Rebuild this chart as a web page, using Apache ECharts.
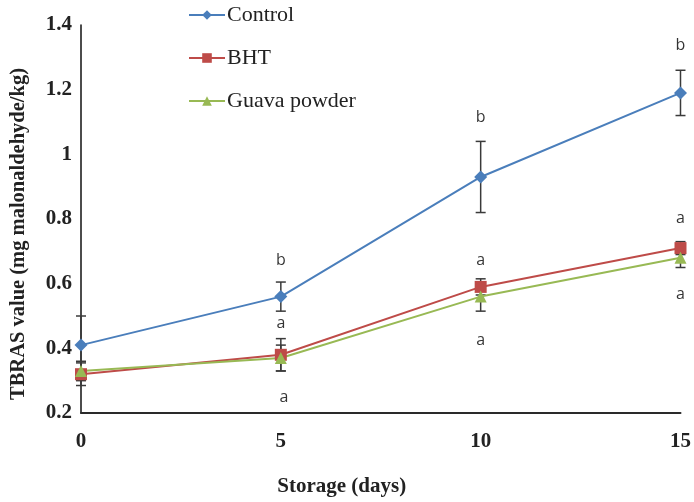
<!DOCTYPE html>
<html>
<head>
<meta charset="utf-8">
<script src="https://cdn.jsdelivr.net/npm/echarts@6/dist/echarts.min.js"></script>
<style>html,body{margin:0;padding:0;background:#fff;}#c{width:694px;height:502px;}</style>
</head>
<body>
<div id="c"></div>
<script>
const days = [0, 5, 10, 15];
const control = [0.41, 0.56, 0.93, 1.19];
const controlErr = [0.09, 0.045, 0.11, 0.07];
const bht = [0.32, 0.38, 0.59, 0.71];
const bhtErr = [0.035, 0.05, 0.025, 0.02];
const guava = [0.33, 0.37, 0.56, 0.68];
const guavaErr = [0.03, 0.04, 0.045, 0.03];
const yTicks = [0.2, 0.4, 0.6, 0.8, 1.0, 1.2, 1.4];
const xTicks = [0, 5, 10, 15];
// significance letters: [day, value position, letter]
const letters = [
  [5, 0.671, 'b'], [5, 0.477, 'a'], [5.08, 0.249, 'a'],
  [10, 1.114, 'b'], [10, 0.671, 'a'], [10, 0.425, 'a'],
  [15, 1.338, 'b'], [15, 0.803, 'a'], [15, 0.566, 'a']
];

const colors = {control: '#4A7EBB', bht: '#BE4B48', guava: '#98B954'};

function errData(vals, errs) {
  return days.map((d, i) => [d, vals[i] - errs[i], vals[i] + errs[i]]);
}
function errSeries(vals, errs) {
  return {
    type: 'custom',
    silent: true,
    z: 1,
    renderItem: function (params, api) {
      const x = api.value(0);
      const lo = api.coord([x, api.value(1)]);
      const hi = api.coord([x, api.value(2)]);
      const w = 5;
      const style = {stroke: '#3a3a3a', lineWidth: 1.5};
      return {
        type: 'group',
        children: [
          {type: 'line', shape: {x1: hi[0], y1: hi[1], x2: lo[0], y2: lo[1]}, style: style},
          {type: 'line', shape: {x1: hi[0] - w, y1: hi[1], x2: hi[0] + w, y2: hi[1]}, style: style},
          {type: 'line', shape: {x1: lo[0] - w, y1: lo[1], x2: lo[0] + w, y2: lo[1]}, style: style}
        ]
      };
    },
    encode: {x: 0, y: [1, 2]},
    data: errData(vals, errs)
  };
}
function lineSeries(name, vals, color, symbol, size) {
  return {
    name: name,
    type: 'line',
    z: 3,
    data: days.map((d, i) => [d, vals[i]]),
    symbol: symbol,
    symbolSize: size,
    showAllSymbol: true,
    lineStyle: {color: color, width: 2},
    itemStyle: {color: color},
    emphasis: {disabled: true}
  };
}

const chart = echarts.init(document.getElementById('c'));
chart.setOption({
  animation: false,
  grid: {left: 80, right: 13, top: 25, bottom: 87},
  legend: {
    orient: 'vertical',
    left: 183,
    top: -1,
    itemWidth: 36,
    itemHeight: 12,
    itemGap: 21,
    textStyle: {fontFamily: 'Liberation Serif', fontSize: 22, color: '#222', padding: [0, 0, 0, -3]},
    data: ['Control', 'BHT', 'Guava powder']
  },
  xAxis: {
    type: 'value',
    min: xTicks[0],
    max: xTicks[xTicks.length - 1],
    interval: 5,
    splitLine: {show: false},
    axisTick: {show: false},
    axisLine: {lineStyle: {color: '#2a2a2a', width: 2}},
    axisLabel: {fontFamily: 'Liberation Serif', fontWeight: 'bold', fontSize: 21, color: '#222', margin: 18},
    name: 'Storage (days)',
    nameLocation: 'middle',
    nameGap: 63,
    nameTextStyle: {fontFamily: 'Liberation Serif', fontWeight: 'bold', fontSize: 21, color: '#222', padding: [0, 78, 0, 0]}
  },
  yAxis: {
    type: 'value',
    min: yTicks[0],
    max: yTicks[yTicks.length - 1],
    interval: 0.2,
    splitLine: {show: false},
    axisTick: {show: false},
    axisLine: {lineStyle: {color: '#111', width: 1.5}},
    axisLabel: {fontFamily: 'Liberation Serif', fontWeight: 'bold', fontSize: 21, color: '#222', margin: 9,
      formatter: v => String(Math.round(v * 10) / 10)},
    name: 'TBRAS value (mg malonaldehyde/kg)',
    nameLocation: 'middle',
    nameGap: 52,
    nameTextStyle: {fontFamily: 'Liberation Serif', fontWeight: 'bold', fontSize: 20.5, color: '#222', padding: [0, 30, 0, 0]}
  },
  series: [
    errSeries(control, controlErr),
    errSeries(bht, bhtErr),
    errSeries(guava, guavaErr),
    lineSeries('Control', control, colors.control, 'diamond', 13),
    lineSeries('BHT', bht, colors.bht, 'rect', 12),
    lineSeries('Guava powder', guava, colors.guava, 'triangle', 12),
    {
      type: 'scatter',
      silent: true,
      z: 4,
      symbol: 'circle',
      symbolSize: 1,
      itemStyle: {color: 'rgba(0,0,0,0)'},
      data: letters.map(l => ({value: [l[0], l[1]], label: {formatter: l[2]}})),
      label: {show: true, position: 'inside', fontFamily: 'Open Sans', fontSize: 16, color: '#000'}
    }
  ]
});
</script>
</body>
</html>
